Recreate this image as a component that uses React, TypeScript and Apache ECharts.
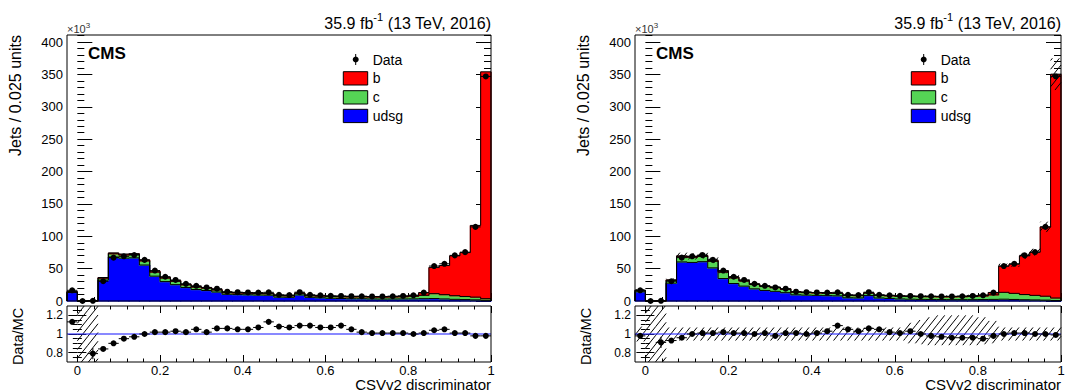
import React, { useEffect, useRef } from "react";
import * as echarts from "echarts";

// ---------------- binning ----------------
const X_MIN = -0.025;
const X_MAX = 1.0;
const BIN_WIDTH = 0.025;

// ---------------- data (thousands of jets per bin, 41 bins) ----------------
const dataJets = [16.5, 0, 0.25, 30.5, 67, 69, 71, 63.5, 47, 37.5, 32.5, 26.5, 23.5, 21, 19, 14.4, 13.6, 13.2, 13.0, 13.4, 9.6, 9.2, 13.6, 9.6, 8.8, 8.0, 7.8, 7.4, 7.3, 7.0, 7.0, 7.3, 7.8, 8.8, 12.9, 54, 57.5, 70.5, 75.5, 114.5, 347];

// pre-fit simulation (left)
const udsgPre = [13.2, 0, 0.26, 32.3, 68.0, 66.2, 66.7, 55.6, 38.4, 30.0, 25.3, 20.8, 17.7, 16.2, 13.9, 10.4, 9.9, 9.6, 9.2, 9.0, 6.0, 5.7, 9.4, 5.7, 5.0, 4.2, 3.8, 3.5, 3.5, 3.2, 3.0, 3.1, 3.2, 3.3, 3.6, 3.8, 3.2, 2.6, 2.2, 1.8, 1.0];
const cPre = [1.0, 0, 0.05, 3.0, 5.0, 5.0, 5.1, 6.4, 6.3, 5.5, 5.1, 4.2, 3.8, 3.6, 3.2, 2.5, 2.5, 2.4, 2.3, 2.3, 2.3, 2.3, 2.5, 2.5, 2.6, 2.7, 2.8, 2.9, 3.0, 3.0, 3.1, 3.2, 3.4, 4.0, 5.2, 7.6, 6.6, 5.6, 4.8, 4.2, 2.6];
const bPre = [0.4, 0, 0.01, 1.0, 1.4, 1.4, 1.4, 1.5, 1.4, 1.3, 1.2, 1.0, 0.9, 0.8, 0.8, 0.7, 0.6, 0.6, 0.6, 0.6, 0.6, 0.6, 0.6, 0.6, 0.6, 0.6, 0.6, 0.6, 0.7, 0.7, 0.8, 0.9, 1.1, 1.5, 4.0, 40.5, 45.0, 61.6, 67.8, 110.8, 350.5];

// post-fit simulation (right)
const udsgPost = [14.3, 0, 0.2, 27.6, 60.4, 59.6, 60.8, 51.2, 34.7, 27.0, 23.0, 18.8, 16.3, 14.9, 12.9, 9.6, 9.1, 8.7, 8.3, 8.0, 5.0, 4.8, 8.4, 4.7, 4.0, 3.2, 2.8, 2.5, 2.4, 2.2, 2.1, 2.1, 2.1, 2.2, 2.5, 2.8, 2.4, 2.0, 1.7, 1.4, 0.8];
const cPost = [1.8, 0, 0.06, 4.2, 8.0, 8.0, 8.1, 10.2, 10.0, 8.8, 8.0, 6.7, 6.1, 5.7, 5.1, 4.0, 3.9, 3.8, 3.7, 3.7, 3.5, 3.5, 3.8, 3.8, 4.0, 4.1, 4.2, 4.3, 4.3, 4.3, 4.4, 4.6, 4.9, 5.6, 7.0, 10.6, 9.4, 8.0, 7.0, 6.0, 3.8];
const bPost = [0.7, 0, 0.01, 1.0, 1.4, 1.4, 1.4, 1.5, 1.4, 1.3, 1.2, 1.0, 0.9, 0.8, 0.8, 0.7, 0.6, 0.6, 0.6, 0.6, 0.6, 0.6, 0.6, 0.6, 0.6, 0.6, 0.6, 0.6, 0.7, 0.7, 0.8, 0.9, 1.1, 1.5, 3.7, 40.6, 45.1, 59.8, 66.8, 107.1, 345.9];

// Data/MC ratios
const ratioPre = [1.13, null, 0.79, 0.84, 0.90, 0.95, 0.97, 1.00, 1.02, 1.02, 1.03, 1.02, 1.05, 1.02, 1.06, 1.06, 1.05, 1.05, 1.07, 1.13, 1.08, 1.07, 1.09, 1.09, 1.07, 1.07, 1.09, 1.05, 1.02, 1.01, 1.01, 1.01, 1.01, 1.00, 1.01, 1.04, 1.05, 1.01, 1.01, 0.98, 0.98];
const ratioPost = [0.98, null, 0.91, 0.93, 0.96, 1.00, 1.01, 1.01, 1.02, 1.01, 1.01, 1.00, 1.01, 0.98, 1.01, 1.01, 1.00, 1.01, 1.03, 1.09, 1.05, 1.03, 1.06, 1.05, 1.02, 1.01, 1.03, 1.00, 0.98, 0.97, 0.96, 0.96, 0.96, 0.95, 0.98, 1.00, 1.01, 1.01, 1.00, 1.00, 0.99];
const ratioErr = [0.012, 0, 0.06, 0.006, 0.004, 0.004, 0.004, 0.004, 0.005, 0.005, 0.006, 0.006, 0.007, 0.007, 0.007, 0.008, 0.009, 0.009, 0.009, 0.009, 0.01, 0.01, 0.009, 0.01, 0.011, 0.011, 0.011, 0.012, 0.012, 0.012, 0.012, 0.012, 0.011, 0.011, 0.009, 0.004, 0.004, 0.004, 0.004, 0.003, 0.002];

// relative MC uncertainty (hatched bands)
const uncUpPre = [0, 1, 1, 0, 0, 0, 0, 0, 0, 0, 0, 0, 0, 0, 0, 0, 0, 0, 0, 0, 0, 0, 0, 0, 0, 0, 0, 0, 0, 0, 0, 0, 0, 0, 0, 0, 0, 0, 0, 0, 0];
const uncDnPre = [0, 1, 1, 0, 0, 0, 0, 0, 0, 0, 0, 0, 0, 0, 0, 0, 0, 0, 0, 0, 0, 0, 0, 0, 0, 0, 0, 0, 0, 0, 0, 0, 0, 0, 0, 0, 0, 0, 0, 0, 0];
const uncUpPost = [0.08, 1, 1, 0.07, 0.07, 0.07, 0.07, 0.07, 0.07, 0.07, 0.07, 0.07, 0.07, 0.07, 0.07, 0.07, 0.07, 0.07, 0.07, 0.07, 0.07, 0.07, 0.07, 0.07, 0.07, 0.07, 0.12, 0.15, 0.18, 0.2, 0.2, 0.2, 0.2, 0.18, 0.14, 0.07, 0.07, 0.07, 0.07, 0.07, 0.07];
const uncDnPost = [0.08, 1, 1, 0.07, 0.07, 0.07, 0.07, 0.07, 0.07, 0.07, 0.07, 0.07, 0.07, 0.07, 0.07, 0.07, 0.07, 0.07, 0.07, 0.07, 0.07, 0.07, 0.07, 0.07, 0.07, 0.07, 0.1, 0.11, 0.12, 0.12, 0.12, 0.12, 0.12, 0.11, 0.1, 0.07, 0.07, 0.07, 0.07, 0.07, 0.07];

// ---------------- tick labels ----------------
const xTickLabels = [0, 0.2, 0.4, 0.6, 0.8, 1];
const yTickLabels = [0, 50, 100, 150, 200, 250, 300, 350, 400];
const rTickLabels = [0.8, 1, 1.2];

const Y_MAX = 411;
const R_MIN = 0.7;
const R_MAX = 1.3;

const FONT = '"Liberation Sans", Arial, Helvetica, sans-serif';
const COL_B = "#ff0000";
const COL_C = "#55d455";
const COL_UDSG = "#0000ff";

function hatchLines(px0: number, px1: number, pyTop: number, pyBot: number) {
  const s = 7;
  const m = 0.8;
  const out: any[] = [];
  if (px1 - px0 < 0.5 || pyBot - pyTop < 0.8) return out;
  const cmin = px0 + m * pyTop;
  const cmax = px1 + m * pyBot;
  for (let c = Math.ceil(cmin / s) * s; c <= cmax; c += s) {
    const a = Math.max(pyTop, (c - px1) / m);
    const b = Math.min(pyBot, (c - px0) / m);
    if (b > a) {
      out.push({
        type: "line",
        shape: { x1: c - m * a, y1: a, x2: c - m * b, y2: b },
        style: { stroke: "#000", lineWidth: 1 },
      });
    }
  }
  return out;
}

function buildOption() {
  const panels = [
    { dx: 0, left: 67, width: 424, udsg: udsgPre, c: cPre, b: bPre, ratio: ratioPre, up: uncUpPre, dn: uncDnPre },
    { dx: 568, left: 635, width: 426, udsg: udsgPost, c: cPost, b: bPost, ratio: ratioPost, up: uncUpPost, dn: uncDnPost },
  ];

  const xMinor: number[] = [];
  for (let k = 1; k <= 25; k++) if (k % 5 !== 0) xMinor.push(+(k * 0.04).toFixed(3));
  const yMinor: number[] = [];
  for (let v = 10; v <= 410; v += 10) if (v % 50 !== 0) yMinor.push(v);
  const rMinor: number[] = [];
  for (let k = 15; k <= 25; k++) if (k !== 16 && k !== 20 && k !== 24) rMinor.push(+(k * 0.05).toFixed(3));

  const grid: any[] = [];
  const xAxis: any[] = [];
  const yAxis: any[] = [];
  const series: any[] = [];
  const graphic: any[] = [];

  const mkX = (gridIndex: number, position: string, vals: number[], len: number, label: boolean) => {
    xAxis.push({
      type: "value", gridIndex, position, min: X_MIN, max: X_MAX,
      axisLine: { show: false }, splitLine: { show: false },
      axisTick: { show: true, inside: true, length: len, customValues: vals, lineStyle: { color: "#000", width: 1 } },
      axisLabel: label
        ? { show: true, customValues: vals, fontSize: 13, color: "#000", fontFamily: FONT, margin: 2, formatter: (v: number) => String(v) }
        : { show: false },
    });
    return xAxis.length - 1;
  };
  const mkY = (gridIndex: number, position: string, min: number, max: number, vals: number[], len: number, label: boolean, fs: number) => {
    yAxis.push({
      type: "value", gridIndex, position, min, max,
      axisLine: { show: false }, splitLine: { show: false },
      axisTick: { show: true, inside: true, length: len, customValues: vals, lineStyle: { color: "#000", width: 1 } },
      axisLabel: label
        ? { show: true, customValues: vals, fontSize: fs, color: "#000", fontFamily: FONT, margin: 4, formatter: (v: number) => String(v) }
        : { show: false },
    });
    return yAxis.length - 1;
  };

  panels.forEach((p) => {
    const gMain = grid.length;
    grid.push({ left: p.left, top: 35, width: p.width, height: 266 });
    const gRat = grid.length;
    grid.push({ left: p.left, top: 306, width: p.width, height: 56 });

    // axes main
    const xm = mkX(gMain, "bottom", xTickLabels, 8, false);
    mkX(gMain, "bottom", xMinor, 4, false);
    const ym = mkY(gMain, "left", 0, Y_MAX, yTickLabels, 15, true, 13);
    mkY(gMain, "left", 0, Y_MAX, yMinor, 7, false, 13);
    mkY(gMain, "right", 0, Y_MAX, yTickLabels, 15, false, 13);
    mkY(gMain, "right", 0, Y_MAX, yMinor, 7, false, 13);
    // axes ratio
    const xr = mkX(gRat, "bottom", xTickLabels, 7, true);
    mkX(gRat, "bottom", xMinor, 3.5, false);
    mkX(gRat, "top", xTickLabels, 7, false);
    mkX(gRat, "top", xMinor, 3.5, false);
    const yr = mkY(gRat, "left", R_MIN, R_MAX, rTickLabels, 9, true, 12);
    mkY(gRat, "left", R_MIN, R_MAX, rMinor, 4.5, false, 12);
    mkY(gRat, "right", R_MIN, R_MAX, rTickLabels, 9, false, 12);
    mkY(gRat, "right", R_MIN, R_MAX, rMinor, 4.5, false, 12);

    const n = dataJets.length;
    const lo = (i: number) => X_MIN + i * BIN_WIDTH;
    const hi = (i: number) => X_MIN + (i + 1) * BIN_WIDTH;
    const L1 = p.udsg.map((u) => u);
    const L2 = p.udsg.map((u, i) => u + p.c[i]);
    const L3 = p.udsg.map((u, i) => u + p.c[i] + p.b[i]);
    const levels = [L1, L2, L3];
    const comps = [
      { name: "udsg", color: COL_UDSG },
      { name: "c", color: COL_C },
      { name: "b", color: COL_B },
    ];

    comps.forEach((cp, k) => {
      series.push({
        type: "custom", name: cp.name, xAxisIndex: xm, yAxisIndex: ym, z: 2, silent: true,
        data: dataJets.map((_, i) => [lo(i), hi(i), k === 0 ? 0 : levels[k - 1][i], levels[k][i]]),
        renderItem: (params: any, api: any) => {
          const y0 = api.value(2), y1 = api.value(3);
          if (!(y1 > y0)) return null;
          const a = api.coord([api.value(0), y1]);
          const b = api.coord([api.value(1), y0]);
          // slight overlap to avoid anti-aliasing seams between adjacent bins
          return {
            type: "rect",
            shape: { x: a[0] - 0.5, y: a[1], width: b[0] - a[0] + 1, height: b[1] - a[1] + 0.6 },
            style: { fill: cp.color },
          };
        },
      });
    });

    // outlines of the stacked histograms
    series.push({
      type: "custom", name: "outline", xAxisIndex: xm, yAxisIndex: ym, z: 3, silent: true,
      data: dataJets.map((_, i) => [lo(i), hi(i), L1[i], L2[i], L3[i], i > 0 ? L1[i - 1] : 0, i > 0 ? L2[i - 1] : 0, i > 0 ? L3[i - 1] : 0, i === n - 1 ? 1 : 0]),
      renderItem: (params: any, api: any) => {
        const x0 = api.value(0), x1 = api.value(1);
        const children: any[] = [];
        for (let j = 0; j < 3; j++) {
          const cur = api.value(2 + j), prev = api.value(5 + j);
          if (cur <= 0 && prev <= 0) continue;
          const pts = [api.coord([x0, prev]), api.coord([x0, cur]), api.coord([x1, cur])];
          if (api.value(8) === 1) pts.push(api.coord([x1, 0]));
          children.push({ type: "polyline", shape: { points: pts }, style: { stroke: "#000", lineWidth: 1, fill: null } });
        }
        return { type: "group", children };
      },
    });

    // MC uncertainty hatch on the main panel
    series.push({
      type: "custom", name: "MC unc", xAxisIndex: xm, yAxisIndex: ym, z: 4, silent: true,
      data: dataJets.map((_, i) => [lo(i), hi(i), L3[i] * (1 - p.dn[i]), L3[i] * (1 + p.up[i])]),
      renderItem: (params: any, api: any) => {
        const a = api.coord([api.value(0), Math.min(api.value(3), Y_MAX)]);
        const b = api.coord([api.value(1), Math.max(api.value(2), 0)]);
        return { type: "group", children: hatchLines(a[0], b[0], a[1], b[1]) };
      },
    });

    // Data points
    series.push({
      type: "custom", name: "Data", xAxisIndex: xm, yAxisIndex: ym, z: 5, silent: true,
      data: dataJets.map((v, i) => [lo(i), hi(i), v]),
      renderItem: (params: any, api: any) => {
        const a = api.coord([api.value(0), api.value(2)]);
        const b = api.coord([api.value(1), api.value(2)]);
        return {
          type: "group",
          children: [
            { type: "line", shape: { x1: a[0], y1: a[1], x2: b[0], y2: b[1] }, style: { stroke: "#000", lineWidth: 1 } },
            { type: "circle", shape: { cx: (a[0] + b[0]) / 2, cy: a[1], r: 3 }, style: { fill: "#000" } },
          ],
        };
      },
    });

    // ratio hatch
    series.push({
      type: "custom", name: "ratio unc", xAxisIndex: xr, yAxisIndex: yr, z: 2, silent: true,
      data: dataJets.map((_, i) => [lo(i), hi(i), 1 - p.dn[i], 1 + p.up[i]]),
      renderItem: (params: any, api: any) => {
        const l = Math.max(api.value(2), R_MIN), h = Math.min(api.value(3), R_MAX);
        if (!(h > l) || api.value(3) - api.value(2) <= 0) return null;
        const a = api.coord([api.value(0), h]);
        const b = api.coord([api.value(1), l]);
        return { type: "group", children: hatchLines(a[0], b[0], a[1], b[1]) };
      },
    });

    // unity line
    series.push({
      type: "line", name: "unity", xAxisIndex: xr, yAxisIndex: yr, z: 3, silent: true,
      showSymbol: false, symbol: "none",
      lineStyle: { color: "rgba(40,40,255,0.55)", width: 2 },
      data: [[X_MIN, 1], [X_MAX, 1]],
    });

    // ratio points
    const rItems: any[] = [];
    p.ratio.forEach((r, i) => {
      if (r !== null) rItems.push([lo(i), hi(i), r, ratioErr[i]]);
    });
    series.push({
      type: "custom", name: "Data/MC", xAxisIndex: xr, yAxisIndex: yr, z: 5, silent: true,
      data: rItems,
      renderItem: (params: any, api: any) => {
        const r = api.value(2), e = api.value(3);
        const a = api.coord([api.value(0), r]);
        const b = api.coord([api.value(1), r]);
        const cx = (a[0] + b[0]) / 2;
        const t = api.coord([0, Math.min(r + e, R_MAX)]);
        const d = api.coord([0, Math.max(r - e, R_MIN)]);
        return {
          type: "group",
          children: [
            { type: "line", shape: { x1: a[0], y1: a[1], x2: b[0], y2: b[1] }, style: { stroke: "#000", lineWidth: 1 } },
            { type: "line", shape: { x1: cx, y1: t[1], x2: cx, y2: d[1] }, style: { stroke: "#000", lineWidth: 1 } },
            { type: "circle", shape: { cx, cy: a[1], r: 3 }, style: { fill: "#000" } },
          ],
        };
      },
    });

    // ---------- texts / frames / legend ----------
    const R = p.left + p.width;
    const dx = p.dx;
    graphic.push(
      { type: "rect", z: 50, silent: true, shape: { x: p.left, y: 35, width: p.width, height: 266 }, style: { fill: "none", stroke: "#000", lineWidth: 1 } },
      { type: "rect", z: 50, silent: true, shape: { x: p.left, y: 306, width: p.width, height: 56 }, style: { fill: "none", stroke: "#000", lineWidth: 1 } },
      {
        type: "text", z: 50, x: R, y: 23,
        style: {
          text: "35.9 fb{sup|-1} (13 TeV, 2016)", fontSize: 16, fontFamily: FONT, fill: "#000",
          align: "right", verticalAlign: "middle", lineHeight: 24,
          rich: { sup: { fontSize: 11, fontFamily: FONT, verticalAlign: "top", lineHeight: 18 } },
        },
      },
      {
        type: "text", z: 50, x: p.left, y: 29,
        style: {
          text: "\u00d710{sup|3}", fontSize: 11, fontFamily: FONT, fill: "#333",
          align: "left", verticalAlign: "middle", lineHeight: 16,
          rich: { sup: { fontSize: 8, fontFamily: FONT, verticalAlign: "top", lineHeight: 12 } },
        },
      },
      { type: "text", z: 50, x: 88 + dx, y: 53.5, style: { text: "CMS", fontSize: 17, fontWeight: "bold", fontFamily: FONT, fill: "#000", align: "left", verticalAlign: "middle" } },
      // legend
      { type: "line", z: 50, shape: { x1: 355.7 + dx, y1: 54, x2: 355.7 + dx, y2: 65 }, style: { stroke: "#000", lineWidth: 1 } },
      { type: "circle", z: 50, shape: { cx: 355.7 + dx, cy: 59.5, r: 3 }, style: { fill: "#000" } },
      { type: "text", z: 50, x: 372.7 + dx, y: 59.5, style: { text: "Data", fontSize: 14, fontFamily: FONT, fill: "#000", align: "left", verticalAlign: "middle" } },
      { type: "rect", z: 50, shape: { x: 343.3 + dx, y: 71.7, width: 24.4, height: 13.3 }, style: { fill: COL_B, stroke: "#000", lineWidth: 1 } },
      { type: "text", z: 50, x: 372.7 + dx, y: 78, style: { text: "b", fontSize: 14, fontFamily: FONT, fill: "#000", align: "left", verticalAlign: "middle" } },
      { type: "rect", z: 50, shape: { x: 343.3 + dx, y: 90.7, width: 24.4, height: 13.3 }, style: { fill: COL_C, stroke: "#000", lineWidth: 1 } },
      { type: "text", z: 50, x: 372.7 + dx, y: 97, style: { text: "c", fontSize: 14, fontFamily: FONT, fill: "#000", align: "left", verticalAlign: "middle" } },
      { type: "rect", z: 50, shape: { x: 343.3 + dx, y: 109.3, width: 24.4, height: 13.3 }, style: { fill: COL_UDSG, stroke: "#000", lineWidth: 1 } },
      { type: "text", z: 50, x: 372.7 + dx, y: 115.7, style: { text: "udsg", fontSize: 14, fontFamily: FONT, fill: "#000", align: "left", verticalAlign: "middle" } },
      // axis titles
      { type: "text", z: 50, x: 15 + dx, y: 35, rotation: Math.PI / 2, style: { text: "Jets / 0.025 units", fontSize: 16, fontFamily: FONT, fill: "#000", align: "right", verticalAlign: "middle" } },
      { type: "text", z: 50, x: 18.3 + dx, y: 336.5, rotation: Math.PI / 2, style: { text: "Data/MC", fontSize: 14.5, fontFamily: FONT, fill: "#000", align: "center", verticalAlign: "middle" } },
      { type: "text", z: 50, x: R, y: 384.5, style: { text: "CSVv2 discriminator", fontSize: 15, fontFamily: FONT, fill: "#000", align: "right", verticalAlign: "middle" } },
    );
  });

  return {
    animation: false,
    backgroundColor: "#fff",
    textStyle: { fontFamily: FONT },
    grid,
    xAxis,
    yAxis,
    series,
    graphic,
  };
}

export default function App() {
  const ref = useRef<HTMLDivElement>(null);
  useEffect(() => {
    const chart = echarts.init(ref.current as HTMLDivElement, null, { renderer: "svg" });
    chart.setOption(buildOption() as any);
    return () => chart.dispose();
  }, []);
  return <div ref={ref} style={{ position: "absolute", left: 0, top: 0, width: 1076, height: 392 }} />;
}
